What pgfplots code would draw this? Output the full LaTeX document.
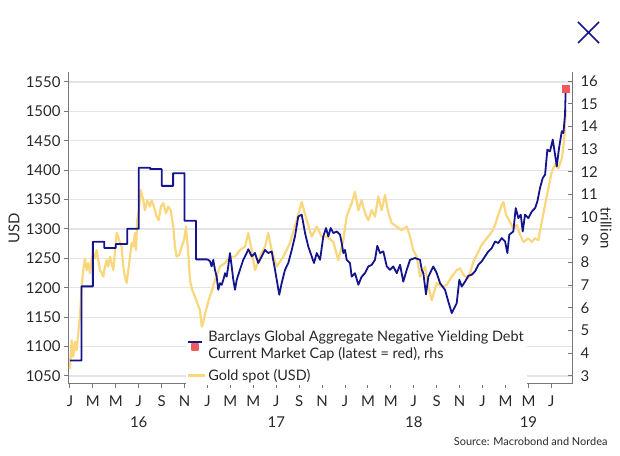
\documentclass[border=0pt]{standalone}
\usepackage{pgfplots}
\pgfplotsset{compat=1.18}
\usepackage{fontspec}
\setmainfont{Lato}
\definecolor{navy}{RGB}{20,20,140}
\definecolor{gold}{RGB}{250,215,125}
\definecolor{redsq}{RGB}{240,90,90}
\definecolor{gridc}{RGB}{228,228,228}
\definecolor{axc}{RGB}{120,120,120}
\definecolor{txt}{RGB}{40,40,40}
\begin{document}
\begin{tikzpicture}[x=1bp,y=1bp]
\path[use as bounding box] (0,0) rectangle (620,456);
\draw[navy, line width=1.6bp] (578,434)--(599,413) (578,413)--(599,434);
\begin{axis}[at={(68bp,72bp)}, anchor=south west, scale only axis,
  width=504bp, height=312bp,
  xmin=-0.17, xmax=43.8, ymin=1036.4, ymax=1567,
  axis x line*=bottom, axis y line*=left,
  axis line style={axc, line width=1bp},
  xtick={0,2,...,42},
  xticklabels={J,M,M,J,S,N,J,M,M,J,S,N,J,M,M,J,S,N,J,M,M,J},
  ytick={1050,1100,...,1550},
  ymajorgrids, grid style={gridc, line width=1.2bp},
  tick align=outside, major tick length=4bp,
  tick style={axc, line width=1bp},
  tick label style={font=\fontsize{15}{17}\selectfont, text=txt},
  /pgf/number format/assume math mode=true,
  /pgf/number format/1000 sep={},
  xticklabel style={yshift=-4bp},
  clip=false]
\addplot[gold, line width=2.2bp, line join=round] coordinates {
(0,1062)(0.15,1111)(0.29,1083)(0.44,1108)(0.58,1094)(0.73,1123)(0.87,1151)(1.02,1202)(1.16,1230)(1.31,1250)(1.46,1230)(1.6,1242)(1.75,1225)(1.89,1247)(2.03,1259)(2.18,1250)(2.33,1264)(2.47,1247)(2.62,1230)(2.77,1225)(2.91,1219)(3.05,1236)(3.2,1247)(3.34,1236)(3.49,1253)(3.63,1242)(3.78,1230)(3.92,1259)(4.07,1293)(4.22,1287)(4.36,1276)(4.51,1270)(4.65,1236)(4.8,1219)(4.95,1208)(5.09,1230)(5.24,1253)(5.38,1276)(5.52,1270)(5.67,1293)(5.76,1264)(5.87,1315)(6.02,1332)(6.17,1366)(6.4,1349)(6.54,1332)(6.75,1349)(6.98,1338)(7.13,1349)(7.33,1338)(7.56,1321)(7.74,1315)(7.94,1338)(8.14,1344)(8.38,1327)(8.58,1338)(8.79,1332)(9.01,1304)(9.16,1270)(9.31,1253)(9.54,1256)(9.75,1270)(9.95,1281)(10.12,1304)(10.3,1264)(10.47,1213)(10.67,1196)(10.91,1185)(11.11,1174)(11.34,1162)(11.5,1134)(11.62,1140)(11.8,1157)(12.1,1179)(12.4,1196)(12.65,1213)(13.09,1236)(13.53,1242)(13.96,1253)(14.4,1253)(14.83,1264)(15.27,1270)(15.56,1293)(15.86,1264)(16.14,1230)(16.58,1253)(17.02,1270)(17.3,1293)(17.6,1264)(18.04,1236)(18.61,1253)(19.2,1276)(19.78,1315)(20.22,1346)(20.65,1315)(21.09,1287)(21.53,1304)(21.96,1287)(22.4,1287)(22.98,1278)(23.41,1247)(23.85,1281)(24.14,1321)(24.58,1344)(24.87,1363)(25.16,1332)(25.45,1349)(25.74,1327)(26.03,1315)(26.33,1332)(26.61,1321)(26.9,1355)(27.2,1332)(27.49,1358)(27.78,1327)(28.07,1310)(28.51,1304)(28.94,1298)(29.38,1304)(29.67,1287)(29.95,1264)(30.25,1253)(30.54,1219)(30.98,1236)(31.27,1202)(31.56,1179)(32.0,1208)(32.43,1202)(32.87,1205)(33.31,1219)(33.74,1230)(34.03,1233)(34.32,1222)(34.76,1216)(35.19,1244)(35.49,1256)(35.92,1273)(36.36,1284)(36.8,1295)(37.09,1307)(37.37,1324)(37.67,1341)(37.81,1346)(38.05,1324)(38.39,1312)(38.68,1301)(38.98,1307)(39.27,1290)(39.56,1278)(39.99,1284)(40.29,1278)(40.58,1284)(40.86,1281)(41.16,1312)(41.45,1341)(41.74,1369)(42.03,1397)(42.32,1410)(42.61,1403)(42.91,1420)(43.05,1440)(43.15,1460)(43.25,1502)
};
\node[font=\fontsize{15}{17}\selectfont, text=txt] at (axis cs:6,1036.4) [yshift=-38bp] {16};
\node[font=\fontsize{15}{17}\selectfont, text=txt] at (axis cs:18,1036.4) [yshift=-38bp] {17};
\node[font=\fontsize{15}{17}\selectfont, text=txt] at (axis cs:30,1036.4) [yshift=-38bp] {18};
\node[font=\fontsize{15}{17}\selectfont, text=txt] at (axis cs:40,1036.4) [yshift=-38bp] {19};
\end{axis}
\begin{axis}[at={(68bp,72bp)}, anchor=south west, scale only axis,
  width=504bp, height=312bp,
  xmin=-0.17, xmax=43.8, ymin=2.647, ymax=16.40,
  axis x line=none, axis y line*=right,
  axis line style={axc, line width=1bp},
  ytick={3,4,...,16},
  tick align=inside, major tick length=4bp,
  tick style={axc, line width=1bp},
  tick label style={font=\fontsize{15}{17}\selectfont, text=txt},
  yticklabel style={xshift=5bp},
  /pgf/number format/assume math mode=true,
  legend style={at={(rel axis cs:0.234,0.18)}, anchor=north west, draw=none, fill=white,
    font=\fontsize{14.5}{17}\selectfont, text=txt, cells={anchor=west, align=left},
    row sep=5bp, inner sep=1bp},
  legend cell align=left,
  clip=false]
\addplot[navy, line width=1.8bp, line join=round,
  legend image code/.code={\draw[navy,line width=2bp] (0bp,4bp)--(14bp,4bp);
    \fill[redsq] (4bp,-4.5bp) rectangle (10bp,1.5bp);}] coordinates {
(0,3.68)(1,3.68)(1,6.95)(2,6.95)(2,8.92)(3,8.92)(3,8.64)(4,8.64)(4,8.82)(5,8.82)(5,9.49)(6,9.49)(6,12.18)(7,12.18)(7,12.12)(8,12.12)(8,11.38)(9,11.38)(9,11.94)(10,11.94)(10,9.84)(11,9.84)(11,8.14)(11.95,8.14)
(12.07,8.12)(12.22,8.05)(12.36,7.83)(12.5,8.12)(12.65,7.68)(12.8,7.38)(12.94,6.80)(13.09,7.09)(13.24,7.02)(13.38,7.24)(13.53,7.53)(13.67,7.38)(13.81,7.83)(13.96,8.42)(14.11,7.83)(14.25,7.24)(14.4,6.80)(14.55,7.24)(14.83,7.68)(15.12,8.12)(15.42,8.42)(15.56,8.59)(15.86,8.27)(16.14,8.42)(16.43,7.98)(16.73,8.27)(17.02,8.56)(17.3,8.42)(17.6,8.49)(17.89,7.68)(18.09,7.09)(18.26,6.58)(18.47,7.09)(18.76,7.68)(19.05,7.98)(19.35,8.56)(19.63,9.15)(19.92,10.03)(20.22,10.11)(20.51,9.30)(20.79,8.71)(21.09,8.27)(21.29,7.98)(21.53,8.42)(21.82,8.12)(22.1,9.15)(22.34,9.52)(22.54,9.15)(22.75,9.52)(22.98,9.30)(23.27,9.37)(23.56,9.23)(23.71,8.86)(23.85,8.42)(24.0,8.56)(24.14,8.12)(24.43,7.98)(24.58,7.38)(24.87,7.53)(25.16,7.02)(25.45,7.38)(25.74,7.53)(26.03,7.83)(26.33,7.90)(26.61,8.12)(26.81,8.74)(27.05,8.42)(27.34,8.49)(27.64,7.83)(27.92,7.68)(28.21,7.83)(28.51,7.53)(28.8,7.9)(29.08,7.16)(29.38,7.68)(29.67,8.12)(30.1,8.20)(30.54,8.12)(30.69,7.68)(30.83,7.53)(31.06,6.6)(31.27,7.38)(31.7,7.83)(32.0,7.53)(32.29,7.09)(32.72,6.80)(33.01,6.28)(33.31,5.77)(33.45,5.91)(33.74,6.21)(33.97,7.24)(34.18,6.94)(34.47,7.16)(34.76,7.42)(35.05,7.46)(35.34,7.61)(35.63,7.9)(35.92,8.05)(36.21,8.27)(36.5,8.49)(36.8,8.64)(37.09,8.93)(37.37,8.86)(37.67,9.08)(37.96,8.93)(38.16,8.42)(38.33,9.23)(38.68,9.37)(38.89,10.40)(39.12,9.96)(39.33,10.11)(39.5,9.37)(39.7,10.11)(39.99,9.96)(40.29,10.25)(40.58,10.40)(40.78,10.70)(41.01,11.29)(41.25,11.73)(41.45,11.87)(41.65,12.98)(41.88,12.90)(42.12,13.42)(42.32,12.76)(42.47,12.24)(42.67,13.05)(42.91,13.79)(43.05,13.71)(43.19,14.52)(43.25,15.65)
};
\addlegendentry{Barclays Global Aggregate Negative Yielding Debt\\Current Market Cap (latest = red), rhs}
\addplot[only marks, mark=square*, mark size=3.5bp, redsq, forget plot] coordinates {(43.25,15.65)};
\addlegendimage{gold, line width=2.2bp}
\addlegendentry{Gold spot (USD)}
\end{axis}
\node[rotate=90, font=\fontsize{15}{17}\selectfont, text=txt] at (14,228) {USD};
\node[rotate=-90, font=\fontsize{15}{17}\selectfont, text=txt] at (606,228) {trillion};
\node[anchor=east, font=\fontsize{11}{13}\selectfont, text=txt] at (611,14) {Source: Macrobond and Nordea};
\end{tikzpicture}
\end{document}
